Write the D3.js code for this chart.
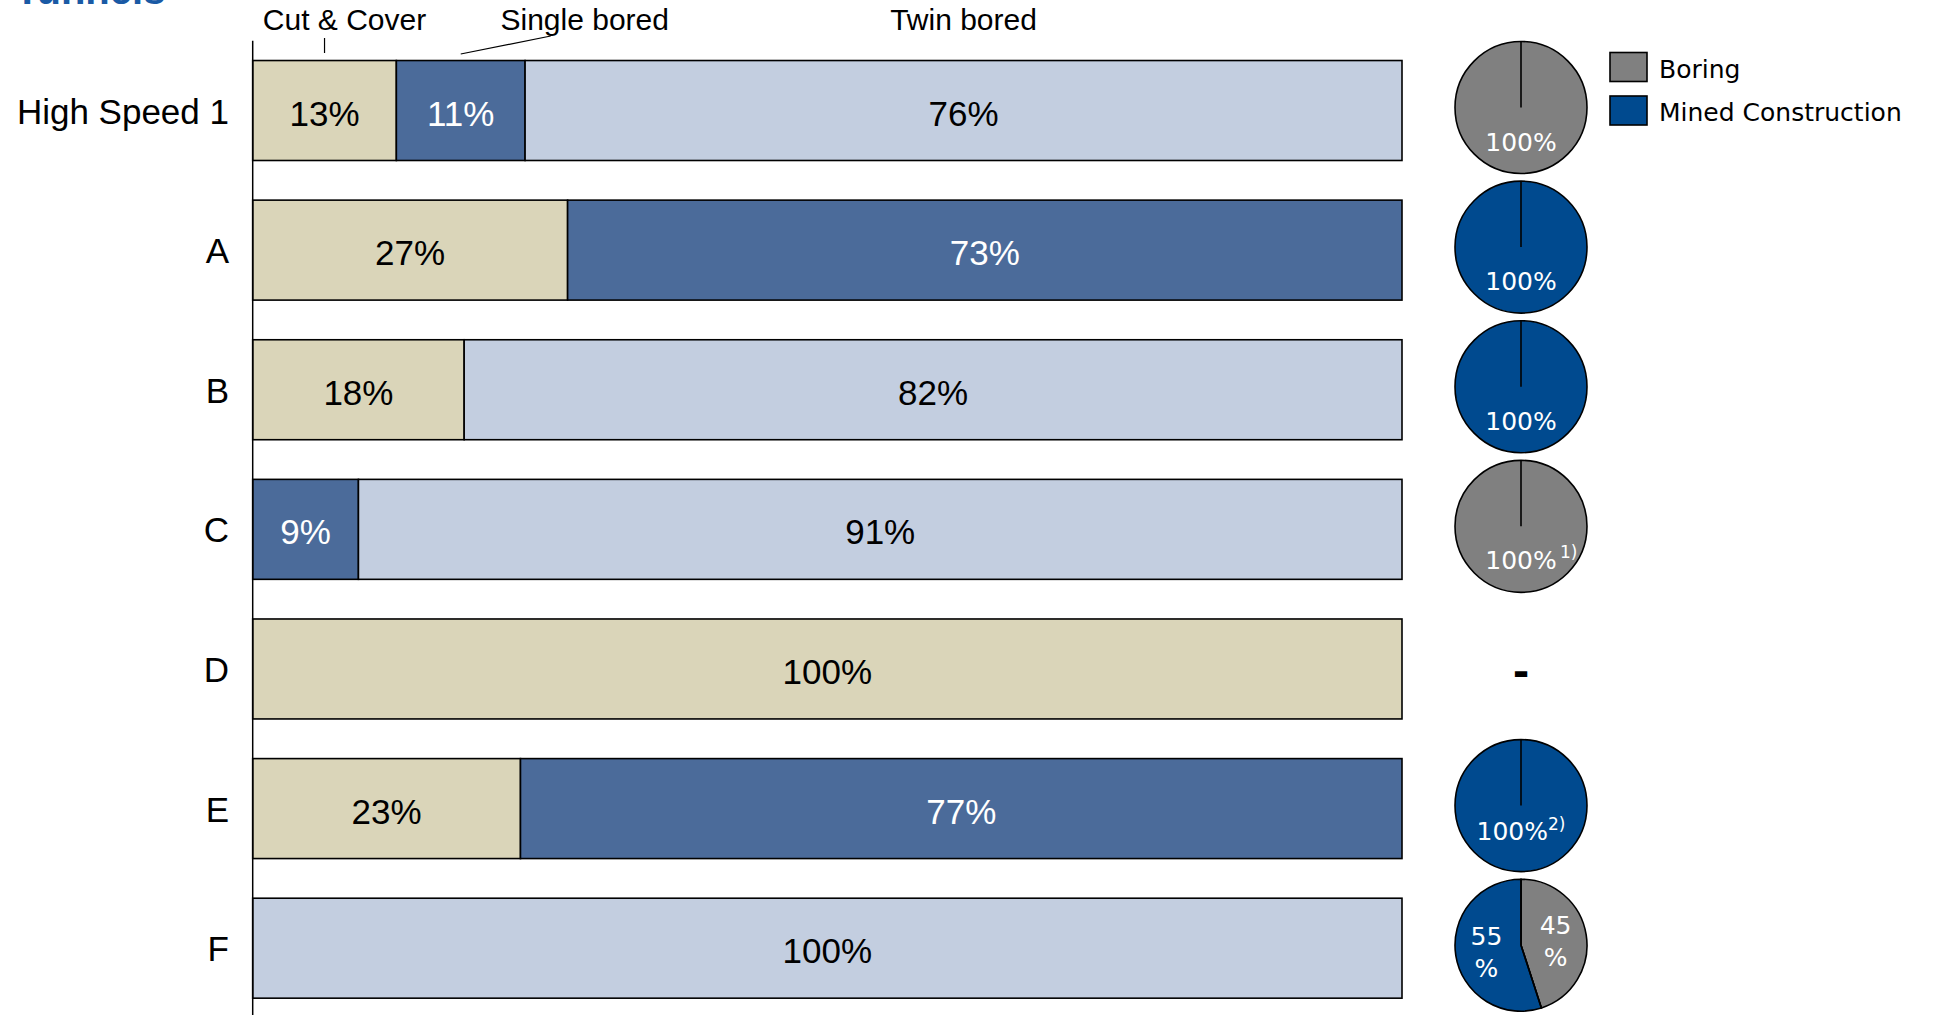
<!DOCTYPE html>
<html><head><meta charset="utf-8">
<script src="https://cdn.jsdelivr.net/npm/d3@7"></script>
<style>body{margin:0;background:#fff;} svg{display:block}</style>
</head><body><svg id="chart" width="1937" height="1015"></svg>
<script>
// ---------- data ----------
const categories   = ["High Speed 1", "A", "B", "C", "D", "E", "F"];
const segmentNames = ["Cut & Cover", "Single bored", "Twin bored"];
const cutCover     = [12.5, 27.4, 18.4, 0,   100, 23.3, 0];
const singleBored  = [11.2, 72.6, 0,    9.2, 0,   76.7, 0];
const twinBored    = [76.3, 0,    81.6, 90.8, 0,  0,    100];
const pieNames     = ["Boring", "Mined Construction"];
const boring       = [100, 0,   0,   100, null, 0,   45];
const mined        = [0,   100, 100, 0,   null, 100, 55];
const pieNotes     = ["", "", "", "1)", "", "2)", ""];
const titleText    = "Tunnels";

// ---------- style ----------
const segColors = {"Cut & Cover": "#dad5b9", "Single bored": "#4b6b9a", "Twin bored": "#c3cee0"};
const segText   = {"Cut & Cover": "#000", "Single bored": "#fff", "Twin bored": "#000"};
const pieColors = {"Boring": "#808080", "Mined Construction": "#004a8f"};
const barFont = "'Liberation Sans', Arial, sans-serif";
const pieFont = "'DejaVu Sans', Verdana, sans-serif";

const svg = d3.select("#chart");

const x = d3.scaleLinear().domain([0, 100]).range([252.7, 1402]);
const y = d3.scaleBand().domain(categories).range([40.7, 1018]).paddingInner(0.284).paddingOuter(0.142);

// title (cut off at top, as in the reference)
svg.append("text").attr("x", 15).attr("y", 4).text(titleText)
  .attr("font-family", barFont).attr("font-weight", "bold").attr("font-size", 40).attr("fill", "#1a5aa5");

// stacked data
const rows = categories.map((c, i) => ({cat: c, "Cut & Cover": cutCover[i], "Single bored": singleBored[i], "Twin bored": twinBored[i]}));
const stack = d3.stack().keys(segmentNames)(rows);

const gBars = svg.append("g");
stack.forEach(layer => {
  layer.forEach(d => {
    const v = d[1] - d[0];
    if (v <= 0) return;
    const cat = d.data.cat;
    gBars.append("rect")
      .attr("x", x(d[0])).attr("y", y(cat))
      .attr("width", x(d[1]) - x(d[0])).attr("height", y.bandwidth())
      .attr("fill", segColors[layer.key]).attr("stroke", "#000").attr("stroke-width", 1.6);
    gBars.append("text")
      .attr("x", (x(d[0]) + x(d[1])) / 2).attr("y", y(cat) + y.bandwidth() / 2 + 15)
      .attr("text-anchor", "middle").attr("font-family", barFont).attr("font-size", 35)
      .attr("fill", segText[layer.key]).text(Math.round(v) + "%");
  });
});

// vertical axis line
svg.append("line").attr("x1", x(0)).attr("x2", x(0)).attr("y1", y.range()[0]).attr("y2", 1015)
  .attr("stroke", "#000").attr("stroke-width", 1.5);

// category labels
svg.append("g").selectAll("text").data(categories).join("text")
  .attr("x", 229).attr("y", d => y(d) + y.bandwidth() / 2 + 13)
  .attr("text-anchor", "end").attr("font-family", barFont).attr("font-size", 35).attr("fill", "#000")
  .text(d => d);

// segment header labels with leader lines (based on first row)
const segMid = k => { const s = stack.find(l => l.key === k)[0]; return x((s[0] + s[1]) / 2); };
const headerOffsets = {"Cut & Cover": 20, "Single bored": 124, "Twin bored": 0};
segmentNames.forEach(k => {
  svg.append("text").attr("x", segMid(k) + headerOffsets[k]).attr("y", 30)
    .attr("text-anchor", "middle").attr("font-family", barFont).attr("font-size", 30).attr("fill", "#000").text(k);
});
svg.append("line").attr("x1", segMid("Cut & Cover")).attr("x2", segMid("Cut & Cover"))
  .attr("y1", 38).attr("y2", 53).attr("stroke", "#000").attr("stroke-width", 1.2);
svg.append("line").attr("x1", segMid("Single bored")).attr("x2", segMid("Single bored") + 90)
  .attr("y1", 54).attr("y2", 36).attr("stroke", "#000").attr("stroke-width", 1.2);

// pies
const pieX = 1521, pieR = 66;
const pie = d3.pie().sort(null).value(d => d.v);
const arc = d3.arc().innerRadius(0).outerRadius(pieR);
const labelArc = d3.arc().innerRadius(0).outerRadius(70);
categories.forEach((c, i) => {
  const cy = y(c) + y.bandwidth() / 2 - 3;
  const g = svg.append("g").attr("transform", `translate(${pieX},${cy})`);
  if (boring[i] === null) {
    g.append("text").attr("x", 0).attr("y", 20).attr("text-anchor", "middle")
      .attr("font-family", pieFont).attr("font-weight", "bold").attr("font-size", 40).text("-");
    return;
  }
  const vals = [{k: "Boring", v: boring[i]}, {k: "Mined Construction", v: mined[i]}];
  const arcs = pie(vals).filter(a => a.data.v > 0);
  g.selectAll("path").data(arcs).join("path")
    .attr("d", arc).attr("fill", a => pieColors[a.data.k]).attr("stroke", "#000").attr("stroke-width", 1.6);
  arcs.forEach(a => {
    g.append("line").attr("x1", 0).attr("y1", 0)
      .attr("x2", pieR * Math.sin(a.startAngle)).attr("y2", -pieR * Math.cos(a.startAngle))
      .attr("stroke", "#000").attr("stroke-width", 1.6);
  });
  if (arcs.length === 1) {
    const dy = pieNotes[i] === "2)" ? 34 : 43;
    const t = g.append("text").attr("x", 0).attr("y", dy).attr("text-anchor", "middle")
      .attr("font-family", pieFont).attr("font-size", 25).attr("fill", "#fff");
    if (pieNotes[i] === "2)") {
      t.append("tspan").text("100%");
      t.append("tspan").attr("font-size", 17).attr("dy", -10).text(pieNotes[i]);
    } else {
      t.text("100%");
      if (pieNotes[i]) {
        g.append("text").attr("x", 39).attr("y", dy - 11).attr("font-family", pieFont)
          .attr("font-size", 17).attr("fill", "#fff").text(pieNotes[i]);
      }
    }
  } else {
    arcs.forEach(a => {
      const [lx, ly] = labelArc.centroid(a);
      const t = g.append("text").attr("text-anchor", "middle")
        .attr("font-family", pieFont).attr("font-size", 25).attr("fill", "#fff");
      t.append("tspan").attr("x", lx).attr("y", ly - 6).text(a.data.v);
      t.append("tspan").attr("x", lx).attr("y", ly + 26).text("%");
    });
  }
});

// legend
const lg = svg.append("g");
pieNames.forEach((k, i) => {
  const cy = 67 + i * 43.5;
  lg.append("rect").attr("x", 1610).attr("y", cy - 14.5).attr("width", 37).attr("height", 29)
    .attr("fill", pieColors[k]).attr("stroke", "#000").attr("stroke-width", 1.6);
  lg.append("text").attr("x", 1659).attr("y", cy + 10.5).attr("font-family", pieFont)
    .attr("font-size", 25).attr("fill", "#000").text(k);
});
</script>
</body></html>
